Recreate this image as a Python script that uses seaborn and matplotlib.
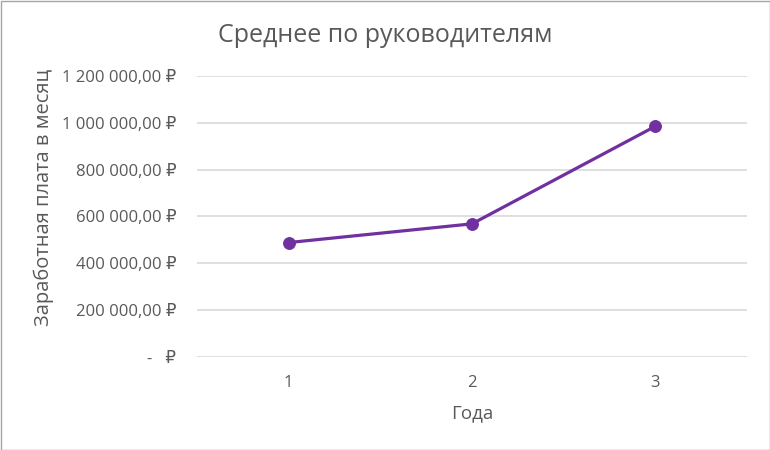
import matplotlib
matplotlib.use("Agg")
import matplotlib.pyplot as plt
import matplotlib.ticker as mticker
import seaborn as sns
import pandas as pd

years = [1, 2, 3]
salary = [488000, 568000, 985000]
y_ticks = [0, 200000, 400000, 600000, 800000, 1000000, 1200000]

sns.set_style("white")
plt.rcParams['font.family'] = ['Open Sans', 'DejaVu Sans']

text_color = '#595959'
df = pd.DataFrame({'Года': years, 'Зарплата': salary})

fig = plt.figure(figsize=(7.7, 4.5), dpi=100)
ax = fig.add_axes([197 / 770, 1 - 356.7 / 450, 550 / 770, 280.7 / 450])

sns.lineplot(data=df, x='Года', y='Зарплата', ax=ax, color='#7030A0',
             linewidth=2.3, marker='o', markersize=8.5,
             markeredgecolor='#7030A0', markerfacecolor='#7030A0')

def rub(v, pos):
    if v == 0:
        return '-   ₽'
    s = f"{v:,.2f}".replace(',', ' ').replace('.', ',')
    return s + ' ₽'

ax.set_xlim(0.5, 3.5)
ax.set_ylim(0, 1200000)
ax.set_xticks(years)
ax.set_xticklabels([str(y) for y in years])
ax.set_yticks(y_ticks)
ax.yaxis.set_major_formatter(mticker.FuncFormatter(rub))
ax.grid(axis='y', color='#D9D9D9', linewidth=1.2)
ax.set_axisbelow(True)
for s in ax.spines.values():
    s.set_visible(False)
ax.tick_params(axis='both', length=0, labelsize=12, labelcolor=text_color)
ax.tick_params(axis='y', pad=15)
ax.tick_params(axis='x', pad=13)

ax.set_xlabel('Года', fontsize=13.5, color=text_color, labelpad=10)
ax.set_ylabel('Заработная плата в месяц', fontsize=14.5, color=text_color)
ax.yaxis.set_label_coords(-143 / 550, 0.566)
fig.text(385 / 770, 1 - 36 / 450, 'Среднее по руководителям', fontsize=18,
         color=text_color, ha='center', va='center')

fig.patches.append(plt.Rectangle((0.5 / 770, 0.5 / 450), 769 / 770, 449 / 450,
                                 transform=fig.transFigure, fill=False,
                                 edgecolor='#A6A6A6', linewidth=1))

fig.savefig('out.png', dpi=100)
